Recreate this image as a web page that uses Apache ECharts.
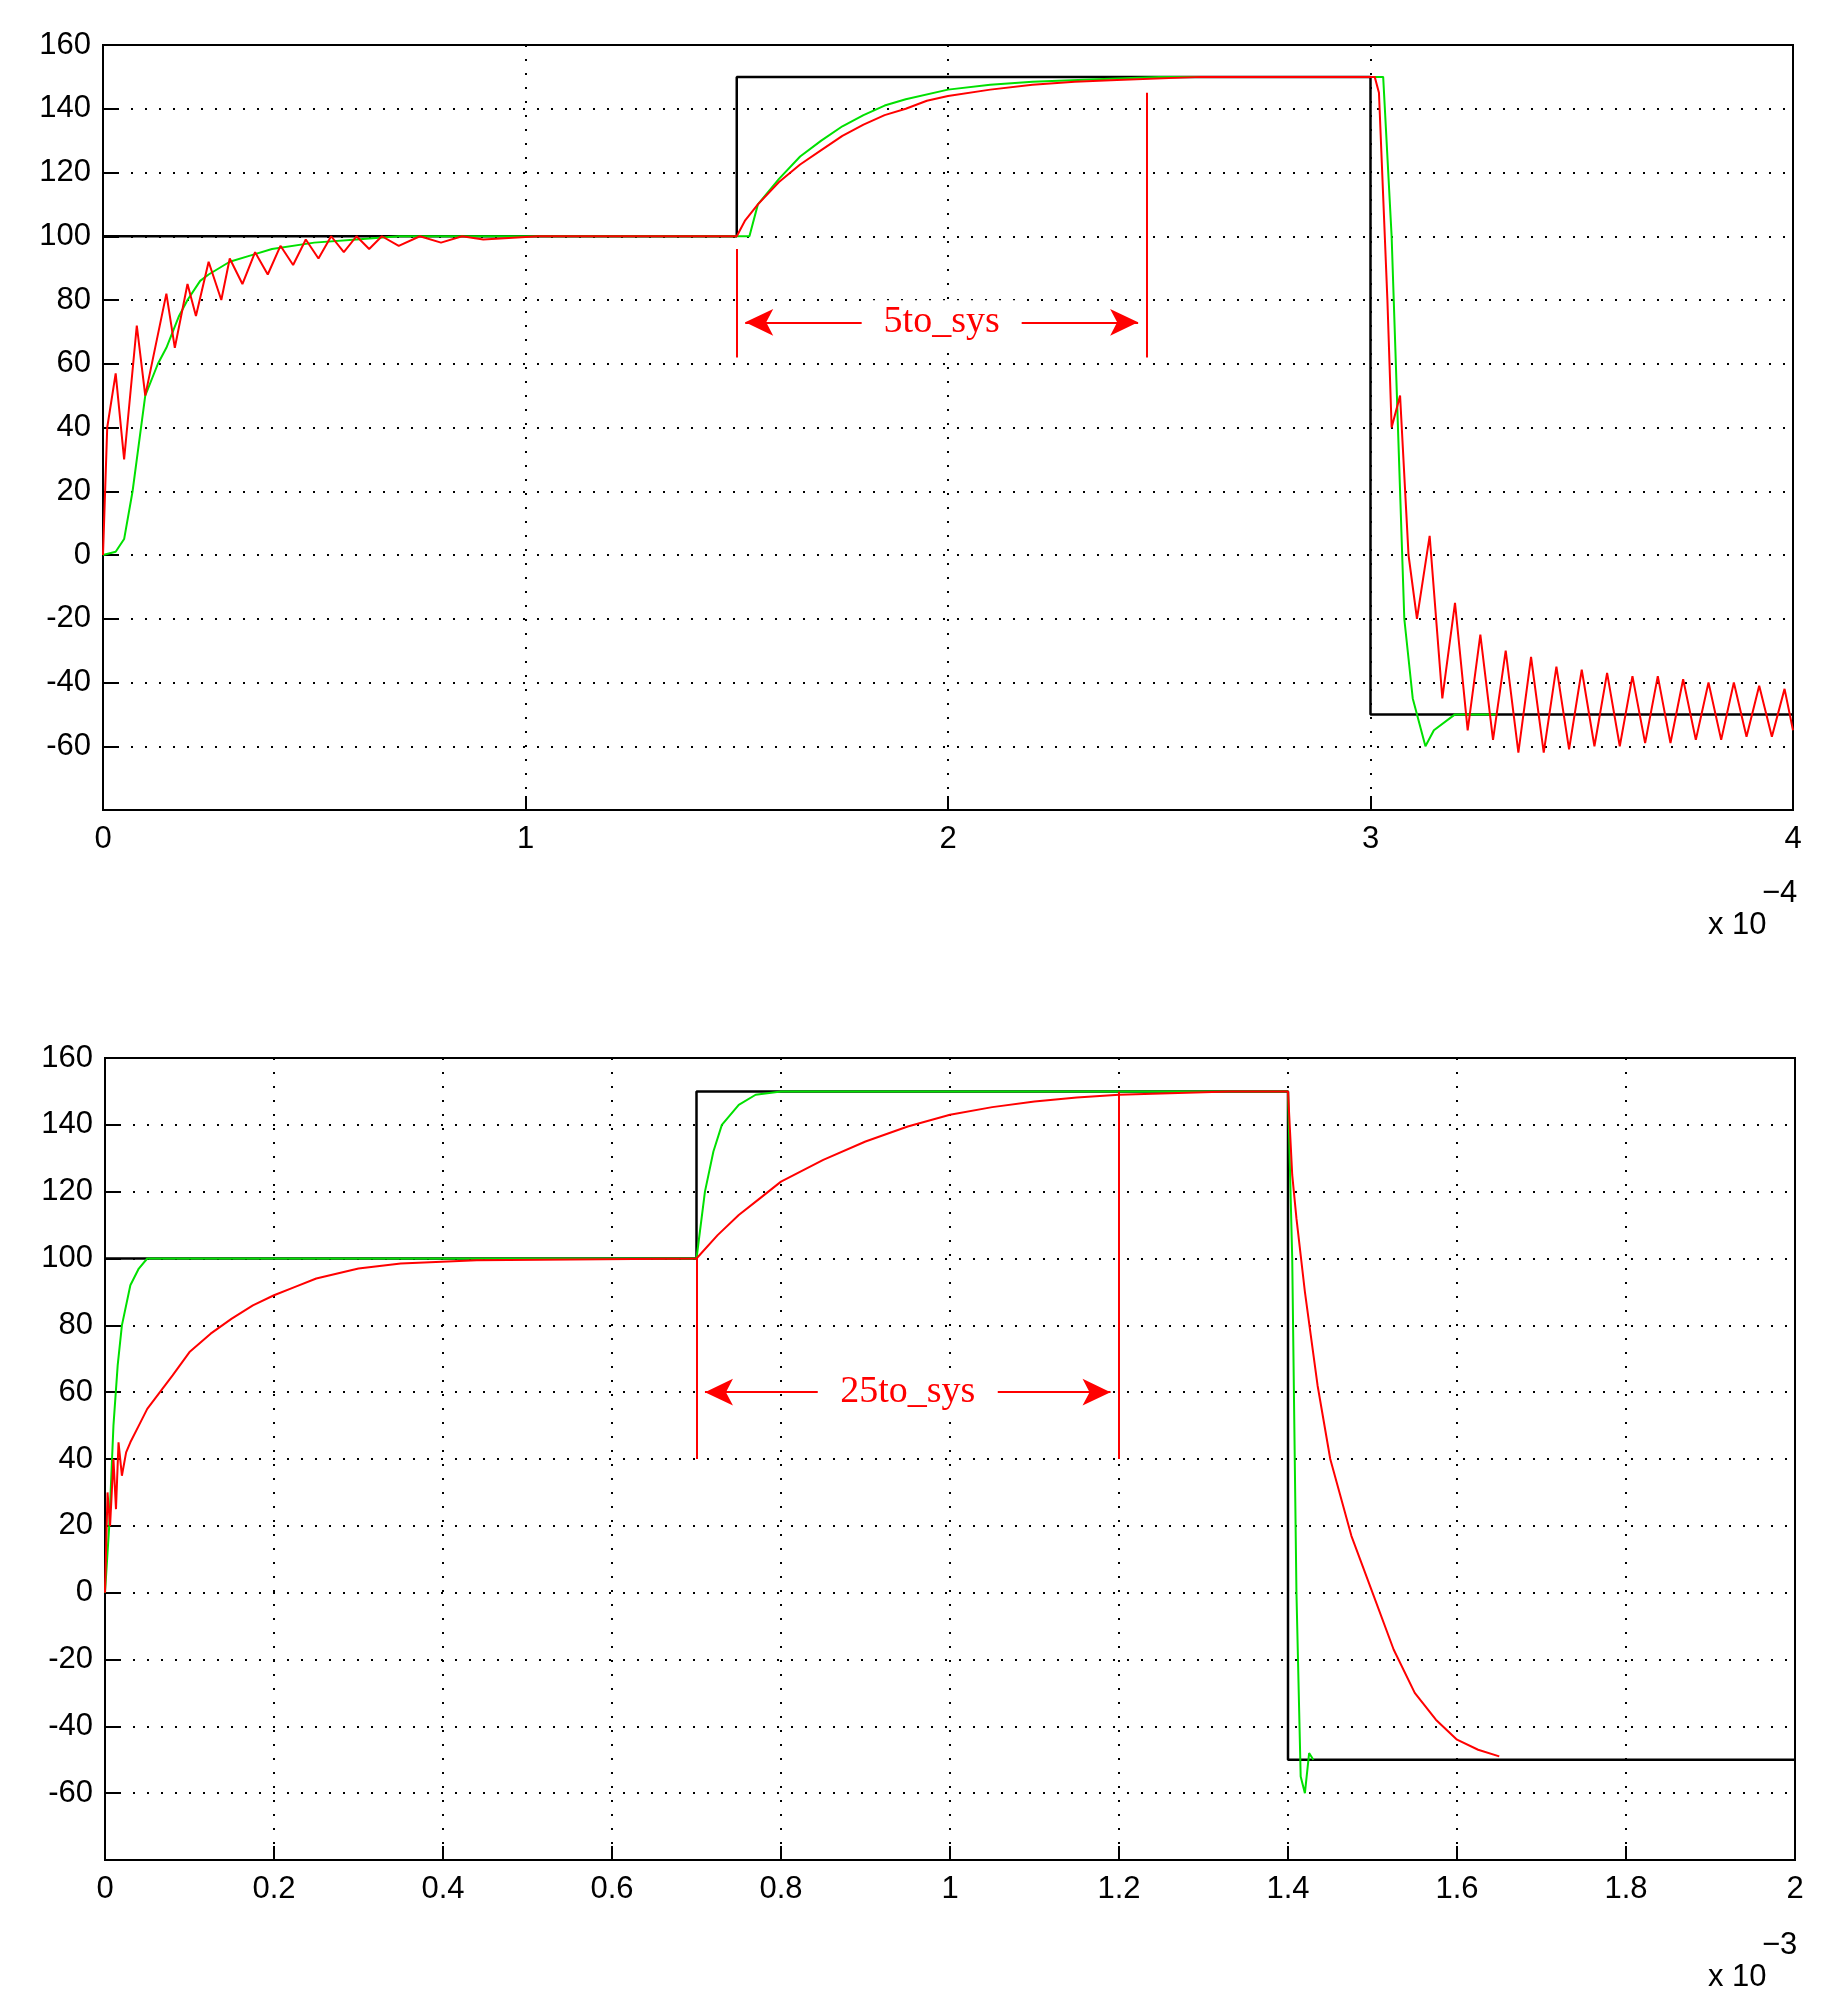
<!DOCTYPE html>
<html><head><meta charset="utf-8">
<script src="https://cdn.jsdelivr.net/npm/echarts@6/dist/echarts.min.js"></script>
<style>html,body{margin:0;background:#fff}#c{width:1829px;height:2015px}</style>
</head><body><div id="c"></div>
<script>
// Top panel (x in units of 1e-4 s)
const topRef = [[0,100],[1.5,100],[1.5,150],[3,150],[3,-50],[4,-50]];
const topGreen = [[0,0],[0.03,1],[0.05,5],[0.07,20],[0.08,30],[0.1,50],[0.13,60],[0.15,65],[0.18,75],[0.2,80],[0.23,86],[0.25,88],[0.3,92],[0.35,94],[0.4,96],[0.5,98],[0.6,99],[0.7,100],
  [1.5,100],[1.53,100],[1.55,110],[1.6,118],[1.65,125],[1.7,130],[1.75,134.5],[1.8,138],[1.85,141],[1.9,143],[2.0,146],[2.1,147.5],[2.2,148.5],[2.4,149.5],[2.5,150],
  [3.0,150],[3.03,150],[3.05,100],[3.07,20],[3.08,-20],[3.1,-45],[3.13,-60],[3.15,-55],[3.2,-50],[3.3,-50]];
const topRed = [[0,0],[0.01,40],[0.03,57],[0.05,30],[0.08,72],[0.1,50],[0.15,82],[0.17,65],[0.2,85],[0.22,75],[0.25,92],[0.28,80],[0.3,93],[0.33,85],[0.36,95],[0.39,88],[0.42,97],[0.45,91],[0.48,99],[0.51,93],[0.54,100],[0.57,95],[0.6,100],[0.63,96],[0.66,100],[0.7,97],[0.75,100],[0.8,98],[0.85,100],[0.9,99],[1.03,100],
  [1.5,100],[1.52,105],[1.55,110],[1.6,117],[1.65,122.5],[1.7,127],[1.75,131.5],[1.8,135],[1.85,138],[1.9,140],[1.95,142.5],[2.0,144],[2.1,146],[2.2,147.5],[2.3,148.5],[2.4,149],[2.6,150],[2.73,150],
  [3.0,150],[3.01,150],[3.02,145],[3.04,80],[3.05,40],[3.07,50],[3.09,0],[3.11,-20],[3.14,6],[3.17,-45],[3.2,-15],[3.23,-55],[3.26,-25],[3.29,-58],[3.32,-30],[3.35,-62],[3.38,-32],[3.41,-62],[3.44,-35],[3.47,-61],[3.5,-36],[3.53,-60],[3.56,-37],[3.59,-60],[3.62,-38],[3.65,-59],[3.68,-38],[3.71,-59],[3.74,-39],[3.77,-58],[3.8,-40],[3.83,-58],[3.86,-40],[3.89,-57],[3.92,-41],[3.95,-57],[3.98,-42],[4.0,-55]];
// Bottom panel (x in units of 1e-3 s)
const botRef = [[0,100],[0.7,100],[0.7,150],[1.4,150],[1.4,-50],[2,-50]];
const botGreen = [[0,0],[0.005,20],[0.01,50],[0.015,68],[0.02,80],[0.03,92],[0.04,97],[0.05,100],[0.06,100],
  [0.7,100],[0.71,120],[0.72,132],[0.73,140],[0.75,146],[0.77,149],[0.8,150],
  [1.4,150],[1.405,100],[1.41,0],[1.415,-55],[1.42,-60],[1.425,-48],[1.43,-50]];
const botRed = [[0,0],[0.003,30],[0.006,20],[0.01,40],[0.013,25],[0.016,45],[0.02,35],[0.025,42],[0.03,45],[0.04,50],[0.05,55],[0.065,60],[0.08,65],[0.1,72],[0.125,77.5],[0.15,82],[0.175,86],[0.2,89],[0.225,91.5],[0.25,94],[0.3,97],[0.35,98.5],[0.44,99.5],
  [0.7,100],[0.725,107],[0.75,113],[0.775,118],[0.8,123],[0.85,129.5],[0.9,135],[0.95,139.5],[1.0,143],[1.05,145.3],[1.1,147],[1.15,148.2],[1.2,149],[1.33,150],
  [1.4,150],[1.405,125],[1.41,112],[1.42,90],[1.435,62],[1.45,40],[1.475,17],[1.5,0],[1.525,-17],[1.55,-30],[1.575,-38],[1.6,-44],[1.625,-47],[1.65,-49]];
const yTicks = [160,140,120,100,80,60,40,20,0,-20,-40,-60];
// annotations: [x, y1, y2] verticals, arrow [x1,x2,y,label]
const topVert = [[1.5,96,62],[2.47,145,62]];
const topArrow = [1.52,2.45,73,'5to_sys'];
const botVert = [[0.7,100,40],[1.2,150,40]];
const botArrow = [0.71,1.19,60,'25to_sys'];

const ch = echarts.init(document.getElementById('c'));
const font = {fontFamily:'Liberation Sans', fontSize:31, color:'#000'};
function xAxis(i,max,interval){return {gridIndex:i,type:'value',min:0,max:max,interval:interval,
  axisLine:{onZero:false,lineStyle:{color:'#000',width:2}},axisTick:{inside:true,length:14,lineStyle:{color:'#000',width:2}},
  axisLabel:Object.assign({margin:14,formatter:v=>String(Math.round(v*10)/10)},font),
  splitLine:{show:true,lineStyle:{color:'#000',type:[2,12],width:2}}};}
function yAxis(i){return {gridIndex:i,type:'value',min:-80,max:160,interval:20,
  axisLine:{onZero:false,lineStyle:{color:'#000',width:2}},axisTick:{inside:true,length:14,lineStyle:{color:'#000',width:2}},
  axisLabel:Object.assign({margin:12,formatter:v=>yTicks.includes(v)?String(v):''},font),
  splitLine:{show:true,lineStyle:{color:'#000',type:[2,12],width:2}}};}
function ln(i,data,color,w){return {type:'line',xAxisIndex:i,yAxisIndex:i,data:data,showSymbol:false,symbol:'none',lineStyle:{color:color,width:w},animation:false,z:color==='#000'?3:4};}
function annot(i,vert,arrow){
  const md=[];
  vert.forEach(v=>md.push([{coord:[v[0],v[1]]},{coord:[v[0],v[2]]}]));
  return {type:'line',xAxisIndex:i,yAxisIndex:i,data:[],animation:false,z:6,
    markLine:{silent:true,symbol:'none',lineStyle:{color:'#f00',width:2,type:'solid'},label:{show:false},
      data:md.concat([[{coord:[arrow[0],arrow[2]],symbol:'arrow',symbolSize:[20,28]},{coord:[arrow[1],arrow[2]],symbol:'arrow',symbolSize:[20,28]}]])},
    markPoint:{silent:true,symbol:'rect',symbolSize:[arrow[3].length*20+20,44],itemStyle:{color:'#fff'},
      label:{show:true,position:'inside',formatter:arrow[3],fontFamily:'Liberation Serif',fontSize:38,color:'#f00'},
      data:[{coord:[(arrow[0]+arrow[1])/2,arrow[2]]}]}};
}
ch.setOption({
  animation:false,
  grid:[{left:103,top:45,width:1690,height:765,show:true,borderColor:'#000',borderWidth:2,backgroundColor:'#fff'},
        {left:105,top:1058,width:1690,height:802,show:true,borderColor:'#000',borderWidth:2,backgroundColor:'#fff'}],
  xAxis:[xAxis(0,4,1),xAxis(1,2,0.2)],
  yAxis:[yAxis(0),yAxis(1)],
  series:[ln(0,topRef,'#000',2.5),ln(0,topGreen,'#00e000',2),ln(0,topRed,'#f00',2),annot(0,topVert,topArrow),
          ln(1,botRef,'#000',2.5),ln(1,botGreen,'#00e000',2),ln(1,botRed,'#f00',2),annot(1,botVert,botArrow)],
  graphic:[
    {type:'text',left:1708,top:910,style:{text:'x 10',font:'31px Liberation Sans',fill:'#000'}},
    {type:'text',left:1762,top:878,style:{text:'\u22124',font:'31px Liberation Sans',fill:'#000'}},
    {type:'text',left:1708,top:1962,style:{text:'x 10',font:'31px Liberation Sans',fill:'#000'}},
    {type:'text',left:1762,top:1930,style:{text:'\u22123',font:'31px Liberation Sans',fill:'#000'}}
  ]
});
</script></body></html>
